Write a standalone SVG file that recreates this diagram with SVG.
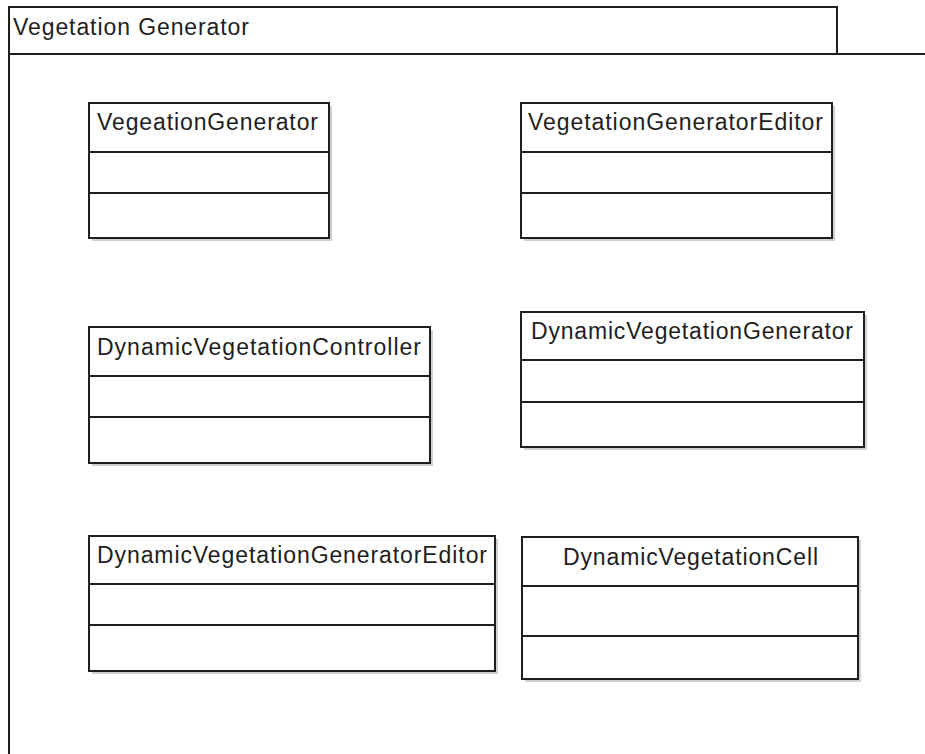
<svg xmlns="http://www.w3.org/2000/svg" width="925" height="754" viewBox="0 0 925 754">
<defs>
<style>
.bg{fill:#ffffff}
.frame{fill:none;stroke:#1e1e1e;stroke-width:2}
.box{fill:#ffffff;stroke:#1e1e1e;stroke-width:2}
.shadow{fill:#cfcfcf}
.div{stroke:#1e1e1e;stroke-width:2}
.t{font-family:"Liberation Sans",Arial,sans-serif;font-size:23px;fill:#1e1e1e}
</style>
</defs>
<rect class="bg" x="0" y="0" width="925" height="754"/>
<g id="package">
<rect class="frame" x="9" y="7" width="828" height="47"/>
<path class="frame" d="M9 54 V760 M9 54 H930"/>
<text class="t" x="13" y="35" textLength="236" lengthAdjust="spacing">Vegetation Generator</text>
</g>
<g id="VegeationGenerator">
<rect class="shadow" x="92" y="106" width="240" height="135"/>
<rect class="box" x="89" y="103" width="240" height="135"/>
<path class="div" d="M89 152 H329 M89 193 H329"/>
<text class="t" x="97" y="130" textLength="221" lengthAdjust="spacing">VegeationGenerator</text>
</g>
<g id="VegetationGeneratorEditor">
<rect class="shadow" x="524" y="106" width="311" height="135"/>
<rect class="box" x="521" y="103" width="311" height="135"/>
<path class="div" d="M521 152 H832 M521 193 H832"/>
<text class="t" x="528" y="130" textLength="295" lengthAdjust="spacing">VegetationGeneratorEditor</text>
</g>
<g id="DynamicVegetationController">
<rect class="shadow" x="92" y="330" width="341" height="136"/>
<rect class="box" x="89" y="327" width="341" height="136"/>
<path class="div" d="M89 376 H430 M89 417 H430"/>
<text class="t" x="97" y="355" textLength="324" lengthAdjust="spacing">DynamicVegetationController</text>
</g>
<g id="DynamicVegetationGenerator">
<rect class="shadow" x="524" y="315" width="343" height="135"/>
<rect class="box" x="521" y="312" width="343" height="135"/>
<path class="div" d="M521 360 H864 M521 402 H864"/>
<text class="t" x="531" y="339" textLength="322" lengthAdjust="spacing">DynamicVegetationGenerator</text>
</g>
<g id="DynamicVegetationGeneratorEditor">
<rect class="shadow" x="92" y="539" width="406" height="135"/>
<rect class="box" x="89" y="536" width="406" height="135"/>
<path class="div" d="M89 584 H495 M89 625 H495"/>
<text class="t" x="97" y="563" textLength="390" lengthAdjust="spacing">DynamicVegetationGeneratorEditor</text>
</g>
<g id="DynamicVegetationCell">
<rect class="shadow" x="525" y="540" width="336" height="142"/>
<rect class="box" x="522" y="537" width="336" height="142"/>
<path class="div" d="M522 586 H858 M522 636 H858"/>
<text class="t" x="563" y="565" textLength="255" lengthAdjust="spacing">DynamicVegetationCell</text>
</g>
<g id="connectors"></g>
</svg>
